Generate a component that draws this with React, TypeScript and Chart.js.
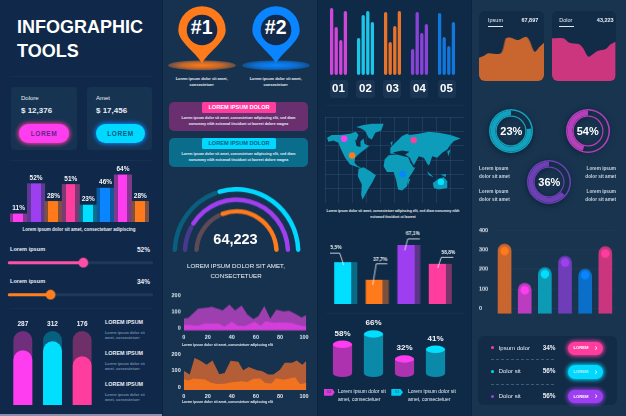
import React, { useEffect, useRef } from "react";
import { Chart, registerables } from "chart.js";

Chart.register(...registerables);
Chart.defaults.font.family = "'Liberation Sans', Arial, sans-serif";

// ---------- data ----------
const skillLabels = ["11%", "52%", "28%", "51%", "23%", "46%", "64%", "28%"];
const skillValues = [11, 52, 28, 51, 23, 46, 64, 28];
const skillFront = ["#ff3df0", "#9d3ff0", "#ff7a1a", "#ff3d9e", "#00dfff", "#0a84ff", "#ff3df0", "#ff7a1a"];
const skillSide = ["#83388f", "#5c3a94", "#7d5040", "#7c3a72", "#0b6f8e", "#0c5a9e", "#83388f", "#7d5040"];

const sliderFill = [52, 29];
const sliderColors = ["#ff4fa6", "#ff7f1f"];

const pillLabels = ["287", "312", "176"];
const pillFill = [74, 86, 66];
const pillTrack = [100, 100, 100];
const pillFront = ["#ff3df0", "#00dfff", "#ff3d9e"];
const pillBack = ["#6f2f7c", "#06607f", "#6f2f68"];

const gaugeOuter = [40, 60];
const gaugeMiddle = [17, 83];
const gaugeInner = [37, 63];

const areaOneX = [0, 3.9, 12, 21.6, 23, 27.4, 32.4, 38, 42.7, 48.2, 52.9, 57.9, 62, 67, 72, 77, 83, 87.6, 93, 98, 102];
const areaOneOuter = [58, 62, 118, 126, 132, 120, 108, 144, 108, 138, 82, 54, 72, 134, 58, 112, 102, 106, 86, 64, 80];
const areaOneInnerX = [0, 5, 12, 18, 29, 34, 40, 45, 51, 59, 64, 68, 75, 80, 90, 95, 102];
const areaOneInner = [18, 18, 14, 28, 28, 8, 38, 14, 12, 38, 14, 42, 30, 34, 30, 18, 8];
const areaTwoX = [0, 5, 9, 13.6, 19, 24, 29.6, 34, 39, 45.4, 49.5, 54, 61, 65, 70.4, 74.5, 80, 84, 90, 94, 98.6, 102];
const areaTwoOuter = [100, 76, 178, 162, 136, 162, 78, 86, 160, 154, 102, 122, 102, 98, 76, 76, 106, 148, 148, 162, 136, 160];
const areaTwoInnerX = [0, 4, 8, 17.7, 23, 27.4, 34, 38.5, 48, 53, 58, 63.8, 67.6, 73, 76.8, 83, 92.5, 96.7, 100, 102];
const areaTwoInner = [48, 40, 52, 46, 26, 18, 20, 28, 36, 30, 50, 52, 24, 22, 54, 44, 60, 18, 22, 28];

const miniGroups = ["01", "02", "03", "04", "05"];
const miniA = [67, 37, 63, 26, 62];
const miniB = [48, 60, 33, 63, 38];
const miniC = [35, 64, 49, 42, 29];
const miniD = [64, 53, 64, 51, 53];
const miniColors = ["#d046d8", "#1cc6e8", "#e8732a", "#8a42d8", "#1277dc"];

const continents = [
  [[16, 70], [30, 62], [55, 62], [85, 58], [102, 52], [110, 62], [104, 76], [112, 85], [125, 72], [128, 88], [142, 95], [125, 108], [112, 118], [100, 130], [98, 145], [108, 155], [118, 158], [112, 160], [100, 155], [85, 150], [70, 130], [58, 105], [50, 85], [35, 78], [20, 82]],
  [[103, 38], [125, 32], [150, 28], [185, 28], [178, 48], [160, 55], [150, 75], [140, 70], [130, 50], [118, 42]],
  [[110, 163], [125, 158], [145, 170], [162, 182], [150, 205], [140, 222], [130, 240], [122, 255], [118, 240], [120, 210], [108, 185]],
  [[188, 135], [200, 122], [225, 120], [245, 125], [258, 128], [265, 145], [275, 160], [280, 158], [270, 175], [260, 190], [255, 215], [240, 228], [228, 225], [222, 195], [215, 172], [195, 172], [185, 155]],
  [[205, 100], [220, 85], [240, 65], [255, 58], [262, 62], [290, 58], [320, 52], [350, 55], [385, 62], [415, 72], [395, 80], [385, 90], [375, 105], [360, 115], [345, 130], [330, 125], [322, 150], [318, 152], [305, 130], [290, 125], [275, 152], [262, 128], [245, 118], [228, 115], [215, 118], [205, 118]],
  [[332, 205], [350, 192], [365, 188], [375, 200], [375, 220], [350, 225], [335, 220]],
  [[258, 195], [265, 192], [258, 212]],
  [[205, 85], [212, 80], [210, 95]],
  [[315, 170], [335, 188], [320, 182]],
  [[355, 180], [372, 178], [370, 187]],
  [[375, 110], [385, 105], [378, 125]],
];
const seas = [
  [[100, 76], [116, 82], [116, 98], [104, 95]],
  [[212, 114], [240, 108], [262, 112], [250, 120], [225, 118]],
];
const mapPins = [[67, 73], [91, 123], [275, 77], [242, 178], [356, 202]];
const mapPinColors = ["#ff3df0", "#ff7a1a", "#ff3d9e", "#0a84ff", "#00e5ff"];
const mapGridX = [10, 51.5, 93, 134.5, 176, 217.5, 259, 300.5, 342, 383.5, 425];
const mapGridY = [8, 50.8, 93.7, 136.5, 179.3, 222.2, 265];

const boxLabels = ["75,5%", "37,7%", "67,1%", "58,8%"];
const boxHeights = [42, 24.3, 59.3, 40.3];
const boxFront = ["#00dfff", "#ff7a1a", "#9d3ff0", "#ff3d9e"];
const boxSide = ["#0a6a86", "#7a4f3c", "#5a3588", "#7a3468"];

const canLabels = ["58%", "66%", "32%", "41%"];
const canHeights = [29, 39.3, 14.3, 24];
const canBody = ["#ac32b0", "#0a8aa8", "#ac32b0", "#0a8aa8"];
const canTop = ["#ff3df0", "#00dfff", "#ff3df0", "#00dfff"];

const cardOneX = [0, 15, 28, 65, 80, 95, 115, 140, 150, 165, 180, 193];
const cardOneY = [70, 76, 83, 83, 128, 130, 123, 133, 121, 88, 103, 115];
const cardTwoX = [0, 34, 52, 82, 94, 110, 127, 137, 162, 177, 192];
const cardTwoY = [128, 128, 115, 110, 98, 73, 83, 90, 96, 110, 118];

const ringValues = [23, 54, 36];
const ringColors = ["#12a2be", "#b63fba", "#6d40b4"];

const towerLabels = ["A", "B", "C", "D", "E", "F"];
const towerValues = [330, 130, 210, 268, 203, 317];
const towerDots = [293, 93, 175, 234, 170, 280];
const towerBody = ["#c9652f", "#bb3cc0", "#0d9ab5", "#6f3db8", "#0a6fc8", "#c9367e"];
const towerDot = ["#ff7a1a", "#ff3df0", "#00dfff", "#a03ff0", "#0a84ff", "#ff3d9e"];

const rowNames = ["Ipsum dolor", "Dolor sit", "Dolor sit"];
const rowValues = ["34%", "56%", "56%"];
const rowColors = ["#ff3d9e", "#00d8ff", "#9d3ff0"];

// ---------- helpers ----------
const tickColor = "#dfe7f0";
const zip = (xs: number[], ys: number[]) => xs.map((x, i) => ({ x, y: ys[i] }));

function ChartBox({ left, top, w, h, make, style }: any) {
  const ref = useRef<HTMLCanvasElement | null>(null);
  useEffect(() => {
    const chart = new Chart(ref.current as any, make());
    return () => chart.destroy();
  }, []);
  return (
    <canvas
      ref={ref}
      width={w}
      height={h}
      style={{ position: "absolute", left, top, width: w, height: h, display: "block", ...style }}
    />
  );
}

function T({ x, y, s = 5, b = true, c = "#e8eef5", a = "left", ls, children }: any) {
  const tx = a === "center" ? "-50%" : a === "right" ? "-100%" : "0";
  return (
    <div
      style={{
        position: "absolute",
        left: x,
        top: y,
        transform: `translate(${tx},-50%)`,
        fontSize: s,
        fontWeight: b ? 700 : 400,
        color: c,
        whiteSpace: "nowrap",
        lineHeight: 1,
        letterSpacing: ls,
      }}
    >
      {children}
    </div>
  );
}

function Box({ x, y, w, h, bg, r = 0, extra }: any) {
  return <div style={{ position: "absolute", left: x, top: y, width: w, height: h, background: bg, borderRadius: r, ...extra }} />;
}

const base = (extra: any = {}) => {
  const { layout, ...rest } = extra;
  return {
    responsive: false,
    maintainAspectRatio: false,
    animation: false,
    layout: { autoPadding: false, ...(layout || {}) },
    plugins: { legend: { display: false }, tooltip: { enabled: false } },
    ...rest,
  };
};

const splitFill = (front: string[], side: string[], width: (c: any) => number, a: number, b: number) => (ctx: any) => {
  if (ctx.type !== "data" || !ctx.chart.chartArea) return front[ctx.dataIndex ?? 0];
  const cx = ctx.chart.scales.x.getPixelForValue(ctx.dataIndex);
  const half = width(ctx.chart) / 2;
  const g = ctx.chart.ctx.createLinearGradient(cx - half, 0, cx + half, 0);
  const f = front[ctx.dataIndex];
  const s = side[ctx.dataIndex];
  g.addColorStop(0, s);
  g.addColorStop(a, s);
  g.addColorStop(a, f);
  g.addColorStop(b, f);
  g.addColorStop(b, s);
  g.addColorStop(1, s);
  return g;
};

const topLabels = (labels: string[], font: string, gap: number) => ({
  id: "topLabels",
  afterDatasetsDraw(chart: any) {
    const { ctx } = chart;
    ctx.save();
    ctx.font = font;
    ctx.fillStyle = "#f2f5f9";
    ctx.textAlign = "center";
    ctx.textBaseline = "middle";
    chart.getDatasetMeta(0).data.forEach((el: any, i: number) => ctx.fillText(labels[i], el.x, el.y - gap));
    ctx.restore();
  },
});

const hiddenX = { display: false, grid: { display: false } };

// ---------- chart configs ----------
const skillConfig = () => ({
  type: "bar",
  data: {
    labels: skillLabels,
    datasets: [
      {
        data: skillValues,
        barPercentage: 1,
        categoryPercentage: 1,
        backgroundColor: splitFill(skillFront, skillSide, (c) => c.chartArea.width / skillValues.length, 0.2, 0.76),
      },
    ],
  },
  options: base({
    scales: { x: hiddenX, y: { display: false, min: 0, max: 77.4 } },
  }),
  plugins: [topLabels(skillLabels, "bold 6.5px 'Liberation Sans'", 5.5)],
});

const sliderConfig = () => ({
  type: "scatter",
  data: {
    datasets: sliderFill.flatMap((v, row) => [
      {
        data: [{ x: v, y: row }],
        pointRadius: 4.6,
        pointBorderWidth: 1.5,
        pointBackgroundColor: sliderColors[row],
        pointBorderColor: sliderColors[row] + "66",
      },
      {
        data: [{ x: 0, y: row }, { x: v, y: row }],
        showLine: true,
        borderColor: sliderColors[row],
        borderWidth: 3,
        borderCapStyle: "round",
        pointRadius: 0,
      },
      {
        data: [{ x: 0, y: row }, { x: 100, y: row }],
        showLine: true,
        borderColor: "#1c3958",
        borderWidth: 3,
        borderCapStyle: "round",
        pointRadius: 0,
      },
    ]),
  },
  options: base({
    scales: {
      x: { display: false, min: -3, max: 103.7 },
      y: { display: false, min: -0.334, max: 1.353, reverse: true },
    },
  }),
});

const pillConfig = () => ({
  type: "bar",
  data: {
    labels: pillLabels,
    datasets: [
      { data: pillFill, backgroundColor: pillFront, grouped: false, borderRadius: { topLeft: 10, topRight: 10 }, borderSkipped: false, categoryPercentage: 0.637, barPercentage: 1 },
      { data: pillTrack, backgroundColor: pillBack, grouped: false, borderRadius: { topLeft: 10, topRight: 10 }, borderSkipped: false, categoryPercentage: 0.637, barPercentage: 1 },
    ],
  },
  options: base({
    scales: {
      x: {
        position: "top",
        grid: { display: false, drawTicks: false },
        border: { display: false },
        ticks: { color: "#eef2f7", font: { size: 6.5, weight: "bold" }, padding: 3 },
        afterFit: (s: any) => { s.height = 15; },
      },
      y: { display: false, min: 0, max: 100 },
    },
  }),
});

const ringArc = (data: number[], colors: string[], weight: number, radius?: any) => ({
  data,
  backgroundColor: colors,
  borderWidth: 0,
  weight,
  borderRadius: radius ?? 0,
});
const gaugeConfig = () => ({
  type: "doughnut",
  data: {
    datasets: [
      ringArc(gaugeOuter, ["#0a5f7e", "#00d8ff"], 4.5, 3),
      ringArc([100], ["rgba(0,0,0,0)"], 5.7),
      ringArc(gaugeMiddle, ["#47398e", "#a03ff0"], 4.5, 3),
      ringArc([100], ["rgba(0,0,0,0)"], 6.9),
      ringArc(gaugeInner, ["#5d4a55", "#ff7a1a"], 4.5, 3),
    ],
  },
  options: base({ rotation: -90, circumference: 180, cutout: "59%" }),
});

const areaConfig = (innerX: number[], inner: number[], outerX: number[], outer: number[], innerColor: string, outerColor: string, floor: number, axisH: number, padTop: number) => () => ({
  type: "scatter",
  data: {
    datasets: [
      { data: zip(innerX, inner), showLine: true, fill: "start", backgroundColor: innerColor, borderWidth: 0, pointRadius: 0 },
      { data: zip(outerX, outer), showLine: true, fill: "start", backgroundColor: outerColor, borderWidth: 0, pointRadius: 0 },
    ],
  },
  options: base({
    layout: { padding: { top: padTop, right: 8.6 } },
    scales: {
      x: {
        min: 0,
        max: 102,
        grid: { display: false, drawTicks: false },
        border: { display: false },
        ticks: { stepSize: 20, includeBounds: false, color: tickColor, font: { size: 5.5, weight: "bold" }, padding: 3, maxRotation: 0 },
        afterFit: (s: any) => { s.height = axisH; },
      },
      y: {
        min: floor,
        max: 200,
        grid: { display: false, drawTicks: false },
        border: { display: false },
        ticks: { stepSize: 100, includeBounds: false, color: tickColor, font: { size: 5.5, weight: "bold" }, padding: 3 },
        afterFit: (s: any) => { s.width = 13.7; },
      },
    },
  }),
});

const miniConfig = () => ({
  type: "bar",
  data: {
    labels: miniGroups,
    datasets: [miniA, miniB, miniC, miniD].map((d) => ({
      data: d,
      backgroundColor: miniColors,
      borderRadius: 2,
      borderSkipped: false,
      categoryPercentage: 0.68,
      barPercentage: 0.72,
    })),
  },
  options: base({
    scales: {
      x: {
        grid: { display: false, drawTicks: false },
        border: { display: false },
        ticks: { color: "#ffffff", font: { size: 11.5, weight: "bold" }, padding: 7 },
        afterFit: (s: any) => { s.height = 25; },
      },
      y: { display: false, min: 0, max: 70 },
    },
  }),
});

const fillShape = (chart: any, pts: number[][], color: string) => {
  const { ctx, scales } = chart;
  ctx.fillStyle = color;
  ctx.beginPath();
  pts.forEach(([x, y], i) => {
    const px = scales.x.getPixelForValue(x);
    const py = scales.y.getPixelForValue(y);
    if (i === 0) ctx.moveTo(px, py);
    else ctx.lineTo(px, py);
  });
  ctx.closePath();
  ctx.fill();
};
const landPlugin = {
  id: "land",
  beforeDatasetsDraw(chart: any) {
    chart.ctx.save();
    continents.forEach((c) => fillShape(chart, c, "#0d9cb9"));
    seas.forEach((c) => fillShape(chart, c, "#0f2a46"));
    chart.ctx.restore();
  },
};
const mapConfig = () => ({
  type: "scatter",
  data: {
    datasets: [
      {
        data: mapPins.map(([x, y]) => ({ x, y })),
        pointRadius: 3.2,
        pointBackgroundColor: mapPinColors,
        pointBorderWidth: 0,
      },
    ],
  },
  options: base({
    scales: {
      x: {
        min: 10,
        max: 425,
        afterBuildTicks: (a: any) => { a.ticks = mapGridX.map((value) => ({ value })); },
        grid: { color: "rgba(72,112,152,0.25)", drawTicks: false },
        border: { display: false },
        ticks: { display: false },
      },
      y: {
        min: 8,
        max: 265,
        reverse: true,
        afterBuildTicks: (a: any) => { a.ticks = mapGridY.map((value) => ({ value })); },
        grid: { color: "rgba(72,112,152,0.25)", drawTicks: false },
        border: { display: false },
        ticks: { display: false },
      },
    },
  }),
  plugins: [landPlugin],
});

const leaderOffsets = [
  { tip: [-2, 3], elbow: [-6, -9], end: [-17, -9], label: [-11, -14] },
  { tip: [-4.5, 5], elbow: [-1, -16], end: [10, -16], label: [3, -20] },
  { tip: [-4, 5.5], elbow: [-1, -6], end: [11, -6], label: [4, -11] },
  { tip: [-2.5, 4], elbow: [1, -6.5], end: [13, -6.5], label: [8, -11] },
];
const leaderPlugin = {
  id: "leaders",
  afterDatasetsDraw(chart: any) {
    const { ctx } = chart;
    ctx.save();
    ctx.strokeStyle = "#f2f5f9";
    ctx.lineWidth = 0.8;
    ctx.fillStyle = "#f2f5f9";
    ctx.font = "bold 4.8px 'Liberation Sans'";
    ctx.textAlign = "center";
    ctx.textBaseline = "middle";
    chart.getDatasetMeta(0).data.forEach((el: any, i: number) => {
      const o = leaderOffsets[i];
      ctx.beginPath();
      ctx.moveTo(el.x + o.tip[0], el.y + o.tip[1]);
      ctx.lineTo(el.x + o.elbow[0], el.y + o.elbow[1]);
      ctx.lineTo(el.x + o.end[0], el.y + o.end[1]);
      ctx.stroke();
      ctx.fillText(boxLabels[i], el.x + o.label[0], el.y + o.label[1]);
    });
    ctx.restore();
  },
};
const boxConfig = () => ({
  type: "bar",
  data: {
    labels: boxLabels,
    datasets: [
      {
        data: boxHeights,
        categoryPercentage: 1,
        barPercentage: 0.735,
        backgroundColor: splitFill(boxFront, boxSide, (c) => (c.chartArea.width / boxHeights.length) * 0.735, 0, 0.74),
      },
    ],
  },
  options: base({ scales: { x: hiddenX, y: { display: false, min: 0, max: 76.3 } } }),
  plugins: [leaderPlugin],
});

const canPlugin = {
  id: "cans",
  afterDatasetsDraw(chart: any) {
    const { ctx } = chart;
    ctx.save();
    chart.getDatasetMeta(0).data.forEach((el: any, i: number) => {
      const half = el.width / 2;
      ctx.fillStyle = canBody[i];
      ctx.beginPath();
      ctx.ellipse(el.x, el.base, half, 3.7, 0, 0, Math.PI * 2);
      ctx.fill();
      ctx.fillStyle = canTop[i];
      ctx.beginPath();
      ctx.ellipse(el.x, el.y, half, 3.7, 0, 0, Math.PI * 2);
      ctx.fill();
      ctx.fillStyle = "#f2f5f9";
      ctx.font = "bold 8px 'Liberation Sans'";
      ctx.textAlign = "center";
      ctx.textBaseline = "middle";
      ctx.fillText(canLabels[i], el.x, el.y - 11);
    });
    ctx.restore();
  },
};
const canConfig = () => ({
  type: "bar",
  data: {
    labels: canLabels,
    datasets: [{ data: canHeights, backgroundColor: canBody, categoryPercentage: 1, barPercentage: 0.62 }],
  },
  options: base({
    layout: { padding: { bottom: 4.7 } },
    scales: { x: hiddenX, y: { display: false, min: 0, max: 55.3 } },
  }),
  plugins: [canPlugin],
});

const cardConfig = (xs: number[], ys: number[], color: string) => () => ({
  type: "scatter",
  data: {
    datasets: [{ data: zip(xs, ys), showLine: true, tension: 0.3, fill: "start", backgroundColor: color, borderWidth: 0, pointRadius: 0 }],
  },
  options: base({
    scales: { x: { display: false, min: 0, max: 193 }, y: { display: false, min: 0, max: 210 } },
  }),
});

const ringConfig = (v: number, color: string) => () => ({
  type: "doughnut",
  data: {
    datasets: [
      ringArc([100], [color], 1.5),
      ringArc([v, 100 - v], ["rgba(0,0,0,0)", color], 5),
      ringArc([100], [color], 1.2),
    ],
  },
  options: base({ cutout: 14.3 }),
});

const towerConfig = () => ({
  type: "bar",
  data: {
    labels: towerLabels,
    datasets: [
      { type: "line", data: towerDots, showLine: false, pointRadius: 4.3, pointBorderWidth: 0, pointBackgroundColor: towerDot },
      {
        data: towerValues,
        base: -27,
        backgroundColor: towerBody,
        borderRadius: { topLeft: 7, topRight: 7 },
        borderSkipped: false,
        categoryPercentage: 1,
        barPercentage: 0.68,
      },
    ],
  },
  options: base({
    layout: { padding: { top: 5, bottom: 0, right: 10.6 } },
    scales: {
      x: { display: false, offset: true },
      y: {
        min: -27,
        max: 400,
        grid: { color: "rgba(255,255,255,0.03)", drawTicks: false },
        border: { display: false },
        ticks: { stepSize: 100, includeBounds: false, color: tickColor, font: { size: 5.5, weight: "bold" }, padding: 0, crossAlign: "far" },
        afterFit: (s: any) => { s.width = 15.5; },
      },
    },
  }),
});

// ---------- small pieces ----------
function Pin({ cx, color, dim, label }: any) {
  const id = "g" + label.slice(1);
  return (
    <>
      <svg width={90} height={80} style={{ position: "absolute", left: cx - 45, top: 0 }}>
        <defs>
          <radialGradient id={id}>
            <stop offset="0%" stopColor={color} />
            <stop offset="60%" stopColor={color} stopOpacity={0.75} />
            <stop offset="100%" stopColor={dim} stopOpacity={0.7} />
          </radialGradient>
        </defs>
        <ellipse cx={45} cy={65.3} rx={34} ry={5} fill={`url(#${id})`} />
        <g transform="translate(45,30)">
          <path d="M0 33.5 C-6 22 -23.7 12 -23.7 0 A23.7 23.7 0 1 1 23.7 0 C23.7 12 6 22 0 33.5Z" fill={color} />
          <circle r={15.3} fill="#12294a" />
        </g>
      </svg>
      <T x={cx} y={28} s={19.5} a="center" c="#ffffff">{label}</T>
      <T x={cx} y={79} s={3.9} a="center">Lorem ipsum dolor sit amet,</T>
      <T x={cx} y={85} s={3.9} a="center">consectetuer</T>
    </>
  );
}

function Banner({ y, bg, tab, tabText }: any) {
  return (
    <>
      <Box x={169} y={y} w={139} h={29} bg={bg} r={5} />
      <Box x={202} y={y} w={74} h={11} bg={tab} r={1.5} />
      <T x={239} y={y + 5.7} s={5.6} a="center" c={tabText}>LOREM IPSUM DOLOR</T>
      <T x={238.5} y={y + 17} s={3.6} a="center">Lorem ipsum dolor sit amet, consectetuer adipiscing elit, sed diam</T>
      <T x={238.5} y={y + 22.5} s={3.6} a="center">nonummy nibh euismod tincidunt ut laoreet dolore magna</T>
    </>
  );
}

function Glow({ x, y, w, h, bg, glow, r }: any) {
  return <Box x={x} y={y} w={w} h={h} bg={bg} r={r} extra={{ boxShadow: `0 0 4px 1px ${glow}` }} />;
}

export default function App() {
  return (
    <div
      style={{
        position: "fixed",
        left: 0,
        top: 0,
        width: 626,
        height: 416,
        overflow: "hidden",
        background: "#0c2440",
        fontFamily: "'Liberation Sans', Arial, sans-serif",
        filter: "blur(0.35px)",
      }}
    >
      {/* column backgrounds */}
      <Box x={0} y={0} w={162} h={416} bg="#10294a" />
      <Box x={163} y={0} w={154} h={416} bg="#16324f" />
      <Box x={318} y={0} w={153} h={416} bg="#0f2a46" />
      <Box x={472} y={0} w={154} h={416} bg="#18344f" />
      <Box x={0} y={414} w={162} h={2} bg="#8d8db0" />
      <Box x={10} y={76} w={142} h={1} bg="rgba(255,255,255,0.03)" />
      <Box x={10} y={160} w={142} h={1} bg="rgba(255,255,255,0.03)" />
      <Box x={10} y={308} w={142} h={1} bg="rgba(255,255,255,0.03)" />
      <Box x={326} y={105} w={138} h={1} bg="rgba(255,255,255,0.03)" />
      <Box x={326} y={313} w={138} h={1} bg="rgba(255,255,255,0.03)" />

      {/* column 1 */}
      <T x={17} y={27} s={18} c="#ffffff">INFOGRAPHIC</T>
      <T x={17} y={51} s={18} c="#ffffff">TOOLS</T>
      <Box x={11} y={87} w={66} h={63} bg="#173352" r={4} />
      <Box x={87} y={87} w={65} h={63} bg="#173352" r={4} />
      <T x={21} y={98} s={6} b={false}>Dolore</T>
      <T x={96} y={98} s={6} b={false}>Amet</T>
      <T x={21} y={111} s={8}>$ 12,376</T>
      <T x={96} y={111} s={8}>$ 17,456</T>
      <Glow x={19} y={124} w={50} h={19} r={10} bg="#ff3df0" glow="#ff3d9e" />
      <Glow x={96} y={124} w={49} h={19} r={10} bg="#00d8ff" glow="#0a84ff" />
      <T x={44} y={133.5} s={6.5} a="center" c="#5a2a86" ls={0.6}>LOREM</T>
      <T x={120.5} y={133.5} s={6.5} a="center" c="#0b5a7e" ls={0.6}>LOREM</T>

      <ChartBox left={9.7} top={165} w={139.5} h={57.3} make={skillConfig} />
      <T x={79} y={230} s={4.5} a="center">Lorem ipsum dolor sit amet, consectetuer adipiscing</T>

      <T x={10} y={250} s={5.6}>Lorem ipsum</T>
      <T x={150} y={250} s={6.5} a="right">52%</T>
      <T x={10} y={282} s={5.6}>Lorem ipsum</T>
      <T x={150} y={282} s={6.5} a="right">34%</T>
      <ChartBox left={5} top={252} w={152} h={54} make={sliderConfig} />

      <ChartBox left={7.9} top={316} w={89.6} h={89} make={pillConfig} />
      {[323, 354, 385].map((y) => (
        <React.Fragment key={y}>
          <T x={105} y={y} s={5.4}>LOREM IPSUM</T>
          <T x={105} y={y + 10.7} s={3.8} c="#6f8bab">Lorem ipsum dolor sit</T>
          <T x={105} y={y + 15.7} s={3.8} c="#6f8bab">amet, consectetuer</T>
        </React.Fragment>
      ))}

      {/* column 2 */}
      <Pin cx={201.7} color="#ff7a1a" dim="#8a5a44" label="#1" />
      <Pin cx={275.7} color="#0a84ff" dim="#0b5fae" label="#2" />
      <Banner y={102} bg="#6a2f6e" tab="#ff3d9e" tabText="#ffffff" />
      <Banner y={138} bg="#0a6d8c" tab="#00d8ff" tabText="#0a6080" />

      <ChartBox left={171.8} top={187} w={129} h={64.5} make={gaugeConfig} />
      <T x={235.5} y={239} s={14.5} a="center" c="#ffffff">64,223</T>
      <T x={236} y={265.5} s={6.2} b={false} a="center" c="#f0f4f8">LOREM IPSUM DOLOR SIT AMET,</T>
      <T x={236} y={275.5} s={6.2} b={false} a="center" c="#f0f4f8">CONSECTETUER</T>

      <ChartBox left={170} top={289.3} w={145} h={54.7} make={areaConfig(areaOneInnerX, areaOneInner, areaOneX, areaOneOuter, "#d43edb", "#9d3fae", -16, 13.3, 5.7)} />
      <T x={182} y={346.3} s={3.4}>Lorem ipsum dolor sit amet, consectetuer adipiscing elit</T>
      <ChartBox left={170} top={347.6} w={145} h={54.4} make={areaConfig(areaTwoInnerX, areaTwoInner, areaTwoX, areaTwoOuter, "#f2731f", "#b35e36", -20, 11.7, 5.7)} />
      <T x={182} y={403.3} s={3.4}>Lorem ipsum dolor sit amet, consectetuer adipiscing elit</T>

      {/* column 3 */}
      {[338.8, 365.6, 392.2, 419, 447].map((x) => (
        <Box key={x} x={x - 9.2} y={80} w={18.4} h={18.4} bg="#1a3553" r={3} />
      ))}
      <ChartBox left={325.3} top={5} w={135.2} h={95} make={miniConfig} />

      <ChartBox left={325} top={116.5} w={139} h={86} make={mapConfig} />
      <T x={393} y={212} s={3.4} a="center">Lorem ipsum dolor sit amet, consectetuer adipiscing elit, sed diam nonummy nibh</T>
      <T x={393} y={218} s={3.4} a="center">euismod tincidunt ut laoreet</T>

      <ChartBox left={330.1} top={228} w={125.6} h={76.3} make={boxConfig} />
      <ChartBox left={326.5} top={318} w={124} h={60} make={canConfig} />

      <Box x={323.7} y={388.7} w={11} h={7} bg="#d93ddc" extra={{ clipPath: "polygon(0 0,78% 0,100% 50%,78% 100%,0 100%)" }} />
      <T x={329} y={392.3} s={4.2} a="center" c="#8a2a90">02</T>
      <T x={338} y={391} s={5} b={false}>Lorem ipsum dolor sit</T>
      <T x={338} y={399.3} s={5} b={false}>amet, consectetuer</T>
      <Box x={391.3} y={388.7} w={11.7} h={7} bg="#00cdf2" extra={{ clipPath: "polygon(0 0,78% 0,100% 50%,78% 100%,0 100%)" }} />
      <T x={397} y={392.3} s={4.2} a="center" c="#0b7fa0">01</T>
      <T x={408} y={391} s={5} b={false}>Lorem ipsum dolor sit</T>
      <T x={408} y={399.3} s={5} b={false}>amet, consectetuer</T>

      {/* column 4 */}
      <div style={{ position: "absolute", left: 479.3, top: 10.7, width: 64.4, height: 70, background: "#122b47", borderRadius: 6, overflow: "hidden" }}>
        <ChartBox left={0} top={0} w={64.4} h={70} make={cardConfig(cardOneX, cardOneY, "#c9652f")} />
      </div>
      <div style={{ position: "absolute", left: 552, top: 10.7, width: 64, height: 70, background: "#122b47", borderRadius: 6, overflow: "hidden" }}>
        <ChartBox left={0} top={0} w={64} h={70} make={cardConfig(cardTwoX, cardTwoY, "#cc367f")} />
      </div>
      <T x={488} y={20.7} s={5.5} b={false}>Ipsum</T>
      <Box x={488} y={26} w={15} h={0.7} bg="#dfe7f0" />
      <T x={538.3} y={20.7} s={5.5} a="right">67,897</T>
      <T x={559.3} y={20.7} s={5.5} b={false}>Dolor</T>
      <Box x={559.3} y={26} w={15} h={0.7} bg="#dfe7f0" />
      <T x={613.7} y={20.7} s={5.5} a="right">43,223</T>

      {[
        [511.3, 130.7],
        [587.7, 130.7],
        [549.3, 182],
      ].map(([x, y], i) => (
        <React.Fragment key={x}>
          <ChartBox
            left={x - 22}
            top={y - 22}
            w={44}
            h={44}
            make={ringConfig(ringValues[i], ringColors[i])}
            style={{ filter: "drop-shadow(0 1px 3px rgba(6,20,40,0.7))" }}
          />
          <T x={x} y={y} s={11} a="center" c="#ffffff">{ringValues[i]}%</T>
        </React.Fragment>
      ))}
      {[169.3, 177.3, 192, 200].map((y, i) => (
        <React.Fragment key={y}>
          <T x={479} y={y} s={4.7} c="#c9d4e0">{i % 2 ? "dolor sit amet" : "Lorem ipsum"}</T>
          <T x={616} y={y} s={4.7} a="right" c="#c9d4e0">{i % 2 ? "dolor sit amet" : "Lorem ipsum"}</T>
        </React.Fragment>
      ))}

      <ChartBox left={478.7} top={225} w={147.3} h={91.5} make={towerConfig} />

      <Box x={478.3} y={335.7} w={138.4} h={69.3} bg="#122b47" r={6} />
      {[347.7, 371.3, 396].map((y, i) => (
        <React.Fragment key={y}>
          <Box x={490.8} y={y - 1.5} w={3} h={3} r={1.5} bg={rowColors[i]} />
          <T x={498.7} y={y} s={6} b={false}>{rowNames[i]}</T>
          <T x={542.7} y={y} s={6.4}>{rowValues[i]}</T>
          <Glow x={568} y={y - 6} w={35} h={13.4} r={7} bg={rowColors[i]} glow={rowColors[i]} />
          <T x={581} y={y + 0.6} s={4.2} a="center" c={i === 1 ? "#bfeeff" : "#ffffff"}>LOREM</T>
          <T x={596} y={y + 0.2} s={9} a="center" b={false} c="#ffffff">›</T>
        </React.Fragment>
      ))}
      <Box x={491} y={359.3} w={63.3} h={0} extra={{ borderTop: "0.8px dashed #3c5c7c" }} />
      <Box x={491} y={384.3} w={63.3} h={0} extra={{ borderTop: "0.8px dashed #3c5c7c" }} />
    </div>
  );
}
